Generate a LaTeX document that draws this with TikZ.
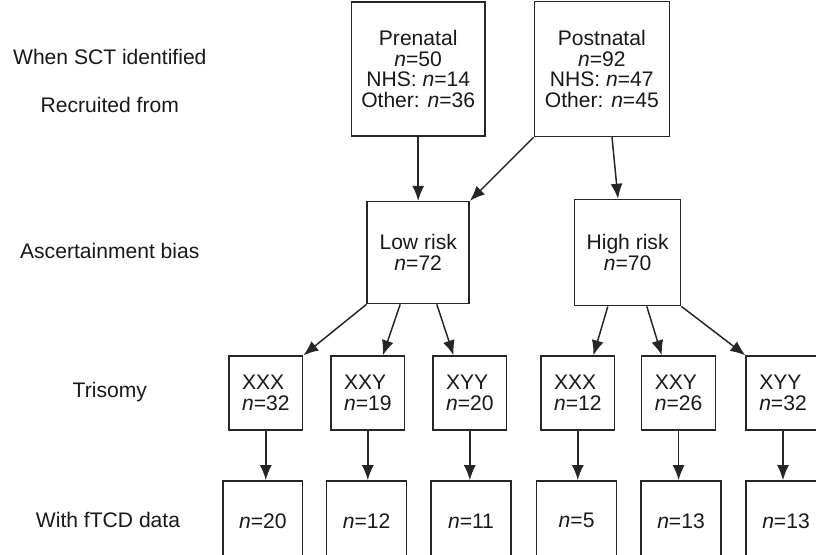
\documentclass[tikz,border=0pt]{standalone}
\usepackage{fontspec}
\setmainfont{Liberation Sans}
\usetikzlibrary{arrows.meta}
\newcommand{\nval}[1]{\textit{n}=#1}

\begin{document}
\begin{tikzpicture}[line width=0.7pt,draw=black!85,
  every node/.style={font=\fontsize{10}{9.8}\selectfont,text=black!90},
  box/.style={draw,align=center,minimum width=#1,minimum height=#1,inner sep=1pt},
  tribox/.style={draw,align=left,minimum width=1.23cm,minimum height=1.23cm,inner sep=1pt},
  databox/.style={draw,minimum width=1.33cm,minimum height=1.33cm,inner sep=1pt},
  arr/.style={-{Latex[length=2.5mm,width=2mm]}}]
  \useasboundingbox (0,0) rectangle (13.6,9.25);
  \clip (0,0) rectangle (13.6,9.25);

  \node (when) at (1.83,8.30) {When SCT identified}; \node (recr) at (1.83,7.50) {Recruited from};
  \node (bias) at (1.83,5.07) {Ascertainment bias}; \node (tris) at (1.83,2.72) {Trisomy};
  \node (ftcd) at (1.80,0.58) {With fTCD data};

  \node[box=2.23cm] (pre) at (6.97,8.10) {Prenatal\\\nval{50}\\NHS: \nval{14}\\Other: \nval{36}};
  \node[box=2.25cm] (post) at (10.03,8.10) {Postnatal\\\nval{92}\\NHS: \nval{47}\\Other: \nval{45}};
  \node[box=1.70cm] (low) at (6.97,5.04) {Low risk\\\nval{72}};
  \node[box=1.77cm] (high) at (10.46,5.04) {High risk\\\nval{70}};

  \node[tribox] (t1) at (4.43,2.70) {XXX\\\nval{32}}; \node[tribox] (t2) at (6.13,2.70) {XXY\\\nval{19}};
  \node[tribox] (t3) at (7.83,2.70) {XYY\\\nval{20}}; \node[tribox] (t4) at (9.63,2.70) {XXX\\\nval{12}};
  \node[tribox] (t5) at (11.31,2.70) {XXY\\\nval{26}}; \node[tribox] (t6) at (13.05,2.70) {XYY\\\nval{32}};

  \node[databox] (f1) at (4.38,0.57) {\nval{20}}; \node[databox] (f2) at (6.11,0.57) {\nval{12}};
  \node[databox] (f3) at (7.85,0.57) {\nval{11}}; \node[databox] (f4) at (9.61,0.57) {\nval{5}};
  \node[databox] (f5) at (11.35,0.57) {\nval{13}}; \node[databox] (f6) at (13.10,0.57) {\nval{13}};

  \draw[arr] (pre.south) -- (low.north); \draw[arr] (post.south west) -- (low.north east);
  \draw[arr] ([xshift=0.17cm]post.south) -- ([xshift=-0.16cm]high.north);
  \draw[arr] (low.south west) -- (t1.north east);
  \draw[arr] ([xshift=-0.30cm]low.south) -- ([xshift=0.25cm]t2.north);
  \draw[arr] ([xshift=0.31cm]low.south) -- ([xshift=-0.27cm]t3.north);
  \draw[arr] ([xshift=-0.33cm]high.south) -- ([xshift=0.26cm]t4.north);
  \draw[arr] ([xshift=0.32cm]high.south) -- ([xshift=-0.28cm]t5.north);
  \draw[arr] (high.south east) -- (t6.north west);
  \draw[arr] (t1.south) -- (t1.south |- f1.north); \draw[arr] (t2.south) -- (t2.south |- f2.north);
  \draw[arr] (t3.south) -- (t3.south |- f3.north); \draw[arr] (t4.south) -- (t4.south |- f4.north);
  \draw[arr] (t5.south) -- (t5.south |- f5.north); \draw[arr] (t6.south) -- (t6.south |- f6.north);
\end{tikzpicture}
\end{document}
